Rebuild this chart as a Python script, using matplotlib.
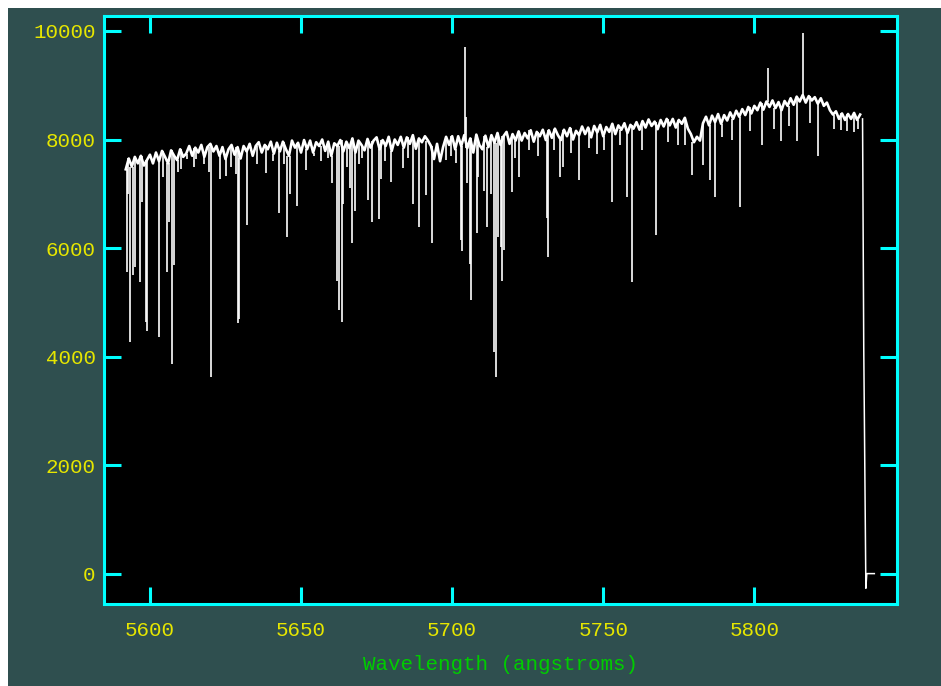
import numpy as np
import matplotlib
matplotlib.use("Agg")
import matplotlib.pyplot as plt
from matplotlib.patches import Rectangle

# continuum flux, one sample per angstrom from 5592 to 5835
cont_start = 5592
cont_flux = [
    7450, 7650, 7500, 7680, 7560, 7700, 7520, 7620, 7720, 7560,
    7760, 7600, 7790, 7680, 7560, 7800, 7700, 7620, 7820, 7680,
    7740, 7880, 7700, 7850, 7760, 7900, 7680, 7860, 7920, 7780,
    7880, 7700, 7860, 7640, 7820, 7900, 7720, 7860, 7650, 7880,
    7780, 7920, 7700, 7880, 7950, 7760, 7900, 7820, 7960, 7740,
    7940, 7780, 7960, 7820, 7700, 7980, 7850, 7940, 7760, 7990,
    7820, 7980, 7760, 7950, 7880, 8000, 7790, 7960, 7700, 7930,
    7880, 7990, 7780, 7960, 7840, 8020, 7760, 7980, 7900, 7800,
    8010, 7850, 7980, 8040, 7820, 7990, 7880, 8050, 7790, 8000,
    7900, 8050, 7850, 8040, 7920, 8080, 7830, 8020, 7950, 8060,
    7980, 7880, 7640, 7920, 7600, 7860, 8050, 7900, 8060, 7820,
    8060, 7880, 8080, 7840, 8020, 7760, 8090, 7900, 7820, 8070,
    7860, 8080, 7940, 8120, 7900, 8060, 8140, 7920, 8100, 7980,
    8150, 7980, 8120, 8020, 8170, 7960, 8140, 8060, 8180, 7990,
    8170, 8030, 8200, 8080, 7990, 8180, 8060, 8210, 8000, 8160,
    8080, 8240, 8100, 8220, 8040, 8250, 8130, 8270, 8060, 8230,
    8140, 8290, 8100, 8260, 8180, 8300, 8120, 8270, 8200, 8320,
    8180, 8340, 8220, 8370, 8250, 8330, 8190, 8360, 8240, 8380,
    8260, 8380, 8220, 8360, 8290, 8400, 8200, 8100, 7950, 8050,
    7980, 8300, 8420, 8260, 8440, 8320, 8470, 8290, 8450, 8350,
    8500, 8380, 8530, 8420, 8560, 8450, 8600, 8480, 8620, 8540,
    8680, 8550, 8700, 8600, 8720, 8580, 8690, 8540, 8710, 8620,
    8760, 8640, 8790, 8700, 8820, 8680, 8800, 8720, 8780, 8660,
    8760, 8620, 8680, 8540, 8460, 8520, 8380, 8480, 8360, 8470,
    8380, 8490, 8360, 8460,
]

# absorption (and a few emission) features: wavelength, flux at the line core
line_wave = [
    5592.3, 5592.7, 5593.5, 5594.4, 5594.9, 5596.6, 5597.4, 5598.6, 5599.1,
    5603.0, 5604.3, 5605.8, 5606.3, 5607.3, 5607.8, 5609.2, 5610.4, 5612.1,
    5614.6, 5615.1, 5617.8, 5619.4, 5620.1, 5623.1, 5625.3, 5626.7, 5628.6,
    5629.1, 5629.6, 5632.1, 5635.4, 5638.5, 5640.6, 5642.6, 5644.2, 5645.5,
    5646.3, 5648.8, 5651.8, 5654.3, 5656.5, 5658.9, 5660.3, 5661.9, 5662.5,
    5663.4, 5663.9, 5665.3, 5666.1, 5667.0, 5667.8, 5669.2, 5670.3, 5672.0,
    5673.5, 5675.7, 5676.6, 5677.8, 5679.9, 5683.6, 5685.4, 5687.1, 5689.0,
    5691.5, 5693.2, 5698.1, 5699.6, 5701.2, 5702.8, 5703.3, 5704.3, 5704.6,
    5704.8, 5705.9, 5706.4, 5708.1, 5708.6, 5710.6, 5711.6, 5712.8, 5713.9,
    5714.4, 5715.2, 5716.1, 5716.6, 5717.1, 5719.7, 5720.8, 5722.2, 5725.5,
    5728.3, 5731.3, 5731.8, 5733.6, 5735.7, 5736.8, 5739.4, 5742.0, 5745.2,
    5747.8, 5750.3, 5752.8, 5755.6, 5757.7, 5759.4, 5762.8, 5767.4, 5771.4,
    5774.6, 5777.0, 5779.5, 5783.1, 5785.3, 5787.0, 5789.2, 5792.7, 5795.4,
    5798.5, 5802.5, 5804.4, 5806.6, 5808.7, 5811.3, 5814.0, 5816.2, 5818.5,
    5821.1, 5826.4, 5828.6, 5830.7, 5832.9, 5834.4,
]
line_flux = [
    5560, 7000, 4270, 5500, 5650, 5370, 6850, 4640, 4480,
    4360, 7310, 5560, 6480, 3870, 5680, 7400, 7450, 7640,
    7500, 7640, 7550, 7400, 3620, 7280, 7320, 7500, 7370,
    4610, 4700, 6420, 7550, 7380, 7600, 6640, 7550, 6200,
    7000, 6770, 7430, 7700, 7600, 7650, 7190, 5400, 4850,
    4640, 6820, 7500, 7100, 6090, 6690, 7550, 7650, 6880,
    6480, 6530, 7280, 7600, 7220, 7470, 7650, 6820, 6390,
    6970, 6090, 7620, 7700, 7560, 6140, 5950, 9700, 8420,
    7190, 5710, 5040, 6270, 7300, 7060, 6390, 7000, 4080,
    3620, 6200, 6020, 5400, 5960, 7030, 7650, 7310, 7800,
    7700, 6550, 5840, 7800, 7310, 7490, 7750, 7250, 7850,
    7740, 7800, 6850, 7900, 6940, 5370, 7800, 6235, 7950,
    7900, 7890, 7350, 7525, 7250, 6940, 8050, 8000, 6760,
    8150, 7890, 9310, 8200, 7980, 8250, 7970, 9960, 8300,
    7700, 8200, 8170, 8150, 8140, 8200,
]

# detector edge at the red end of the order
tail_wave = [5835.8, 5836.2, 5836.9, 5837.2, 5839.7]
tail_flux = [8380, 4150, -270, 0, 0]

cont_wave = np.arange(cont_start, cont_start + len(cont_flux))
cont_arr = np.array(cont_flux)
lw_arr = np.array(line_wave)

# each feature hangs from the nearest continuum sample
idx = np.clip(np.rint(lw_arr - cont_start).astype(int), 0, len(cont_arr) - 1)
line_top = cont_arr[idx]

W, H = 941, 686
fig = plt.figure(figsize=(W / 100, H / 100), dpi=100, facecolor="white")
fig.add_artist(Rectangle((8 / W, 0), 1, 1 - 8 / H, transform=fig.transFigure,
                         facecolor="#2f4f4f", edgecolor="none", zorder=0))

ax = fig.add_axes([104 / W, 1 - 604 / H, (897 - 104) / W, (604 - 16) / H])
ax.set_facecolor("black")
ax.plot(cont_wave, cont_arr, color="white", lw=1.9)
ax.plot(tail_wave, tail_flux, color="white", lw=1.1)
ax.vlines(lw_arr, line_flux, line_top, color="white", lw=1.2)

ax.set_xlim(5584.8, 5847.2)
ax.set_ylim(-560, 10276)
ax.set_xticks([5600, 5650, 5700, 5750, 5800])
ax.set_yticks([0, 2000, 4000, 6000, 8000, 10000])

mono = "Liberation Mono"
for s in ax.spines.values():
    s.set_color("#00ffff")
    s.set_linewidth(2.2)
ax.tick_params(axis="both", direction="in", length=12, width=2.2,
               color="#00ffff", labelcolor="#e6e600", labelsize=15,
               top=True, right=True)
ax.tick_params(axis="x", pad=12)
ax.tick_params(axis="y", pad=6)
for lab in ax.get_xticklabels() + ax.get_yticklabels():
    lab.set_family(mono)

ax.set_xlabel("Wavelength (angstroms)", family=mono, fontsize=15,
              color="#00cc00", va="center")
ax.xaxis.set_label_coords(0.5, -(664 - 604) / 588)

fig.savefig("out.png", dpi=100, facecolor=fig.get_facecolor())
